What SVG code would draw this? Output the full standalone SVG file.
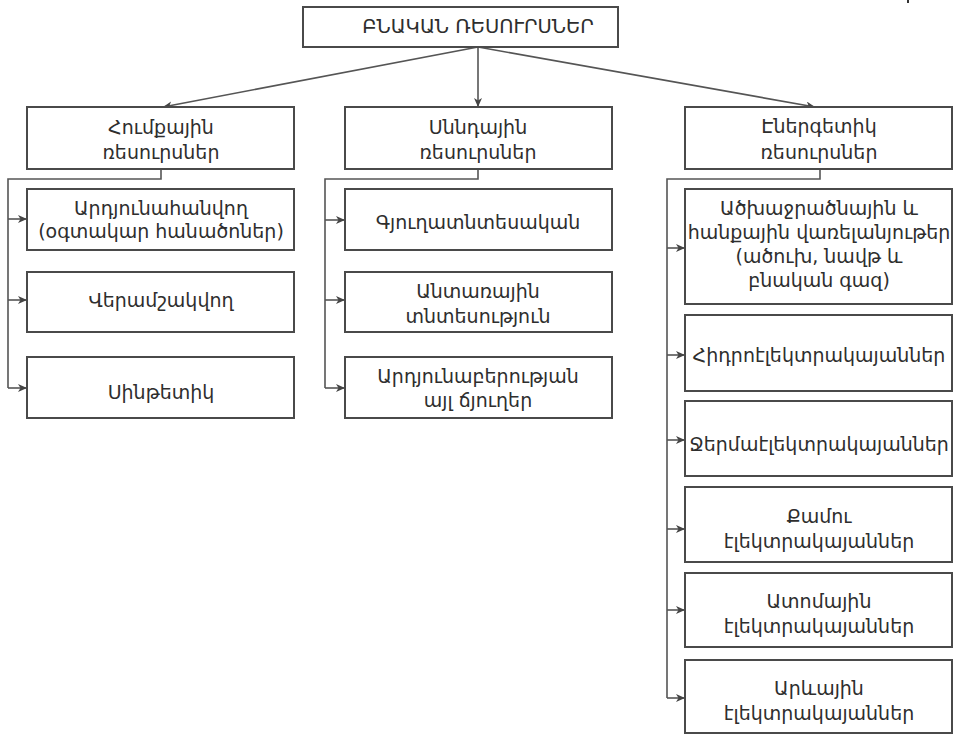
<svg xmlns="http://www.w3.org/2000/svg" width="954" height="734" viewBox="0 0 954 734">
  <style>
    .box { fill: #ffffff; stroke: #4a4a4a; stroke-width: 2; }
    .lbl { font-family: "DejaVu Sans", "Noto Sans", sans-serif; font-size: 19px; fill: #2e2e2e; text-anchor: middle; }
    .top { font-size: 19.5px; }
    .wire { fill: none; stroke: #555555; stroke-width: 1.6; }
    .arr { marker-end: url(#head); }
  </style>
  <defs>
    <marker id="head" markerUnits="userSpaceOnUse" markerWidth="10" markerHeight="10" refX="9" refY="4" orient="auto">
      <path d="M0,0 L9,4 L0,8 L2.5,4 Z" fill="#444444"/>
    </marker>
  </defs>
  <rect x="0" y="0" width="954" height="734" fill="#ffffff"/>
  <rect x="907" y="0" width="2" height="3" fill="#333333"/>

  <!-- connectors -->
  <g id="connectors">
    <line class="wire arr" x1="478" y1="47" x2="163" y2="107"/>
    <line class="wire arr" x1="478" y1="47" x2="478" y2="107"/>
    <line class="wire arr" x1="478" y1="47" x2="815" y2="107"/>

    <polyline class="wire" points="161,169 161,179 8,179 8,388"/>
    <polyline class="wire arr" points="8,219 27,219"/>
    <polyline class="wire arr" points="8,300 27,300"/>
    <polyline class="wire arr" points="8,388 27,388"/>

    <polyline class="wire" points="478,169 478,179 325,179 325,388"/>
    <polyline class="wire arr" points="325,220 345,220"/>
    <polyline class="wire arr" points="325,300 345,300"/>
    <polyline class="wire arr" points="325,388 345,388"/>

    <polyline class="wire" points="820,169 820,179 667,179 667,698"/>
    <polyline class="wire arr" points="667,248 685,248"/>
    <polyline class="wire arr" points="667,355 685,355"/>
    <polyline class="wire arr" points="667,440 685,440"/>
    <polyline class="wire arr" points="667,529 685,529"/>
    <polyline class="wire arr" points="667,610 685,610"/>
    <polyline class="wire arr" points="667,698 685,698"/>
  </g>

  <!-- root -->
  <g id="root">
    <rect class="box" x="303" y="7" width="315" height="40"/>
    <text class="lbl top" x="478" y="33">ԲՆԱԿԱՆ ՌԵՍՈՒՐՍՆԵՐ</text>
  </g>

  <!-- left column -->
  <g id="raw">
    <rect class="box" x="27" y="107" width="267" height="62"/>
    <text class="lbl" x="161" y="134">Հումքային</text>
    <text class="lbl" x="161" y="159">ռեսուրսներ</text>
  </g>
  <g id="raw-mining">
    <rect class="box" x="27" y="189" width="267" height="61"/>
    <text class="lbl" x="161" y="215">Արդյունահանվող</text>
    <text class="lbl" x="161" y="238">(օգտակար հանածոներ)</text>
  </g>
  <g id="raw-processed">
    <rect class="box" x="27" y="272" width="267" height="60"/>
    <text class="lbl" x="161" y="307">Վերամշակվող</text>
  </g>
  <g id="raw-synthetic">
    <rect class="box" x="27" y="357" width="267" height="61"/>
    <text class="lbl" x="161" y="399">Սինթետիկ</text>
  </g>

  <!-- middle column -->
  <g id="food">
    <rect class="box" x="345" y="107" width="267" height="62"/>
    <text class="lbl" x="478" y="134">Սննդային</text>
    <text class="lbl" x="478" y="159">ռեսուրսներ</text>
  </g>
  <g id="food-agri">
    <rect class="box" x="345" y="189" width="267" height="61"/>
    <text class="lbl" x="478" y="229">Գյուղատնտեսական</text>
  </g>
  <g id="food-forest">
    <rect class="box" x="345" y="272" width="267" height="60"/>
    <text class="lbl" x="478" y="298">Անտառային</text>
    <text class="lbl" x="478" y="323">տնտեսություն</text>
  </g>
  <g id="food-industry">
    <rect class="box" x="345" y="357" width="267" height="61"/>
    <text class="lbl" x="478" y="383">Արդյունաբերության</text>
    <text class="lbl" x="478" y="407">այլ ճյուղեր</text>
  </g>

  <!-- right column -->
  <g id="energy">
    <rect class="box" x="685" y="107" width="267" height="62"/>
    <text class="lbl" x="819" y="133">Էներգետիկ</text>
    <text class="lbl" x="819" y="159">ռեսուրսներ</text>
  </g>
  <g id="energy-fuel">
    <rect class="box" x="685" y="189" width="267" height="115"/>
    <text class="lbl" x="819" y="215">Ածխաջրածնային և</text>
    <text class="lbl" x="819" y="239">հանքային վառելանյութեր</text>
    <text class="lbl" x="819" y="263">(ածուխ, նավթ և</text>
    <text class="lbl" x="819" y="287">բնական գազ)</text>
  </g>
  <g id="energy-hydro">
    <rect class="box" x="685" y="315" width="267" height="76"/>
    <text class="lbl" x="819" y="362">Հիդրոէլեկտրակայաններ</text>
  </g>
  <g id="energy-thermal">
    <rect class="box" x="685" y="401" width="267" height="75"/>
    <text class="lbl" x="819" y="451">Ջերմաէլեկտրակայաններ</text>
  </g>
  <g id="energy-wind">
    <rect class="box" x="685" y="487" width="267" height="75"/>
    <text class="lbl" x="819" y="523">Քամու</text>
    <text class="lbl" x="819" y="548">էլեկտրակայաններ</text>
  </g>
  <g id="energy-nuclear">
    <rect class="box" x="685" y="573" width="267" height="74"/>
    <text class="lbl" x="819" y="608">Ատոմային</text>
    <text class="lbl" x="819" y="633">էլեկտրակայաններ</text>
  </g>
  <g id="energy-solar">
    <rect class="box" x="685" y="660" width="267" height="73"/>
    <text class="lbl" x="819" y="695">Արևային</text>
    <text class="lbl" x="819" y="720">էլեկտրակայաններ</text>
  </g>
</svg>
